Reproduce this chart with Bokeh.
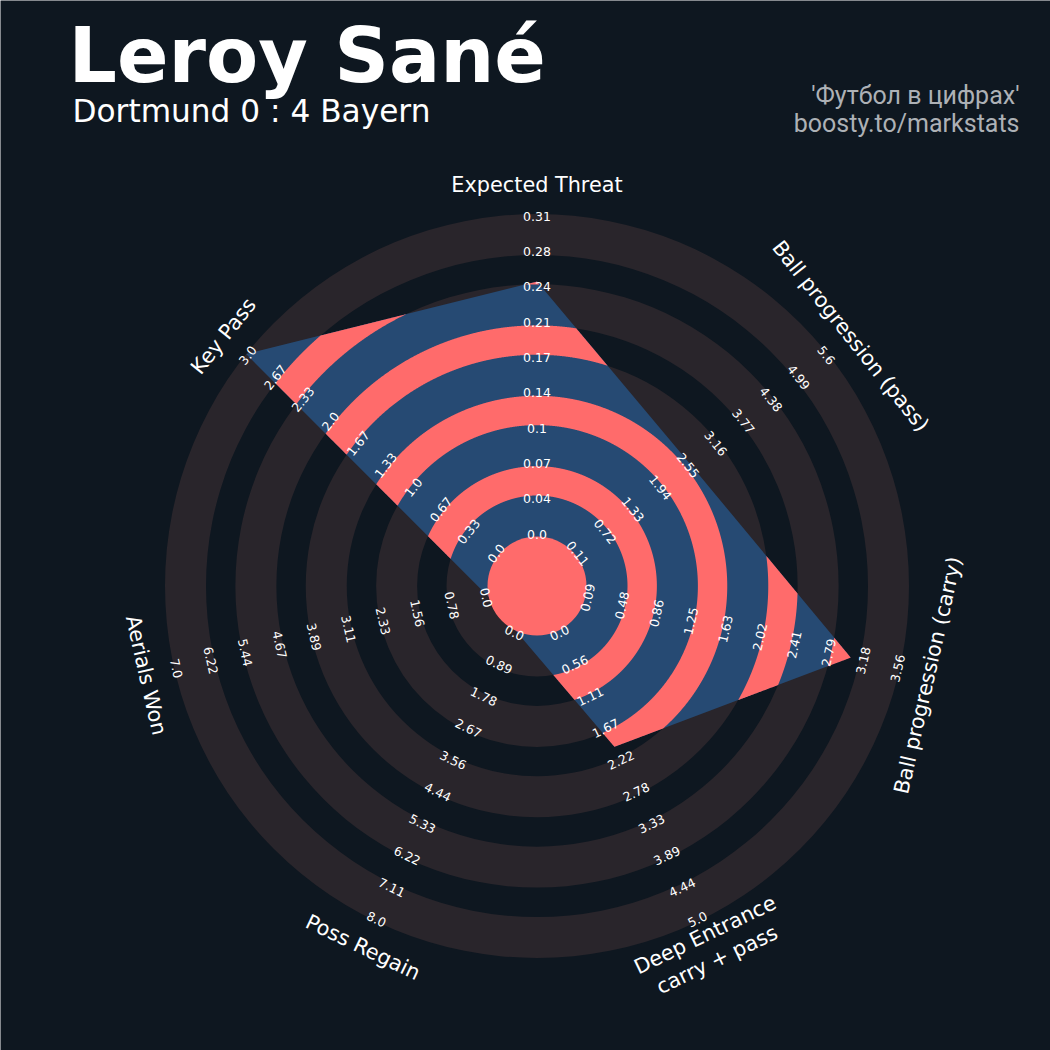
import numpy as np
from bokeh.plotting import figure
from bokeh.models import Range1d
from bokeh.core.properties import value
from bokeh.embed import file_html
from bokeh.resources import INLINE

# ---------------- data ----------------
params = ["Expected Threat", "Ball progression (pass)", "Ball progression (carry)",
          "Deep Entrance\ncarry + pass", "Poss Regain", "Aerials Won", "Key Pass"]
low = [0.0, 0.11, 0.09, 0.0, 0.0, 0.0, 0.0]
high = [0.31, 5.6, 3.56, 5.0, 8.0, 7.0, 3.0]
player_values = [0.245, 2.6, 3.02, 2.0, 0.0, 0.0, 3.0]
range_labels = [
    ["0.0", "0.04", "0.07", "0.1", "0.14", "0.17", "0.21", "0.24", "0.28", "0.31"],
    ["0.11", "0.72", "1.33", "1.94", "2.55", "3.16", "3.77", "4.38", "4.99", "5.6"],
    ["0.09", "0.48", "0.86", "1.25", "1.63", "2.02", "2.41", "2.79", "3.18", "3.56"],
    ["0.0", "0.56", "1.11", "1.67", "2.22", "2.78", "3.33", "3.89", "4.44", "5.0"],
    ["0.0", "0.89", "1.78", "2.67", "3.56", "4.44", "5.33", "6.22", "7.11", "8.0"],
    ["0.0", "0.78", "1.56", "2.33", "3.11", "3.89", "4.67", "5.44", "6.22", "7.0"],
    ["0.0", "0.33", "0.67", "1.0", "1.33", "1.67", "2.0", "2.33", "2.67", "3.0"],
]
title = "Leroy Sané"
subtitle = "Dortmund 0 : 4 Bayern"
credit = ["'Футбол в цифрах'", "boosty.to/markstats"]

# ---------------- style / layout ----------------
BG = "#0e1720"
GREY = "#29252b"
BLUE = "#264a73"
PINK = "#ff6b6b"
R_CENTER = 49.5
R_OUT = 372.0
GREY_W = 41.0
N_GREY = 5
DARK_W = (R_OUT - R_CENTER - N_GREY * GREY_W) / (N_GREY - 1)
LABEL_R0, LABEL_R1 = 52.0, 370.0
PARAM_R = 401.0

p = figure(width=1050, height=1050, output_backend="svg", toolbar_location=None,
           x_range=Range1d(-536.5, 513.5), y_range=Range1d(-464.5, 585.5),
           min_border=0, background_fill_color=BG, border_fill_color=BG)
p.axis.visible = False
p.grid.visible = False
p.outline_line_color = None

# band edges
grey_bands, dark_bands = [], []
r = R_CENTER
for k in range(N_GREY):
    grey_bands.append((r, r + GREY_W))
    r += GREY_W
    if k < N_GREY - 1:
        dark_bands.append((r, r + DARK_W))
        r += DARK_W

p.annulus(x=[0] * len(grey_bands), y=[0] * len(grey_bands),
          inner_radius=[b[0] for b in grey_bands], outer_radius=[b[1] for b in grey_bands],
          fill_color=GREY, line_color=None)

# radar polygon
n = len(params)
step = 2 * np.pi / n
theta = np.pi / 2 - np.arange(n) * step
rv = np.array([R_CENTER + (v - lo) / (hi - lo) * (R_OUT - R_CENTER)
               for v, lo, hi in zip(player_values, low, high)])
vx = rv * np.cos(theta)
vy = rv * np.sin(theta)
p.patch(list(vx), list(vy), fill_color=BLUE, line_color=None)

# polar boundary of polygon
ths, rs = [], []
for i in range(n):
    j = (i + 1) % n
    P = np.array([vx[i], vy[i]])
    Q = np.array([vx[j], vy[j]])
    d = Q - P
    tt = np.linspace(theta[i], theta[i] - step, 500, endpoint=False)
    num = P[0] * d[1] - P[1] * d[0]
    den = np.cos(tt) * d[1] - np.sin(tt) * d[0]
    ths.append(tt)
    rs.append(num / den)
ths = np.concatenate(ths)
rs = np.concatenate(rs)

xs_list, ys_list = [], []
for a, b in dark_bands:
    mask = rs > a
    if mask.all():
        half = len(rs) // 2
        runs = [np.arange(0, half + 1), np.append(np.arange(half, len(rs)), 0)]
        tr, rr = ths, rs
    else:
        s = int(np.argmin(mask))
        tr = np.roll(ths, -s)
        rr = np.roll(rs, -s)
        m = np.roll(mask, -s)
        runs = []
        idx = np.where(m)[0]
        if len(idx):
            splits = np.where(np.diff(idx) > 1)[0] + 1
            runs = np.split(idx, splits)
    for run in runs:
        if len(run) < 2:
            continue
        t = tr[run]
        outer = np.minimum(b, rr[run])
        xs = np.concatenate([outer * np.cos(t), a * np.cos(t[::-1])])
        ys = np.concatenate([outer * np.sin(t), a * np.sin(t[::-1])])
        xs_list.append(list(xs))
        ys_list.append(list(ys))
p.patches(xs_list, ys_list, fill_color=PINK, line_color=None)

# centre circle
p.circle(x=[0], y=[0], radius=R_CENTER, fill_color=PINK, line_color=None)


def text_rot(th):
    rot = np.degrees(th) - 90
    while rot <= -180:
        rot += 360
    while rot > 180:
        rot -= 360
    if rot < -90:
        rot += 180
    if rot > 90:
        rot -= 180
    return np.radians(rot)


# range labels
lr = np.linspace(LABEL_R0, LABEL_R1, 10)
lx, ly, lt, la = [], [], [], []
for i in range(n):
    for k, lab in enumerate(range_labels[i]):
        lx.append(lr[k] * np.cos(theta[i]))
        ly.append(lr[k] * np.sin(theta[i]))
        lt.append(lab)
        la.append(text_rot(theta[i]))
p.text(x=lx, y=ly, text=lt, angle=la, text_align="center", text_baseline="middle",
       text_font=value("DejaVu Sans"), text_font_size="12.5px", text_color="#ffffff")

# parameter labels
p.text(x=list(PARAM_R * np.cos(theta)), y=list(PARAM_R * np.sin(theta)), text=params,
       angle=[text_rot(t) for t in theta], text_align="center", text_baseline="middle",
       text_font=value("DejaVu Sans"), text_font_size="20.8px", text_color="#ffffff",
       text_line_height=1.15)

# titles (plot units = pixels, radar centre at origin)
p.text(x=[-468.5], y=[530.8], text=[title], text_font=value("DejaVu Sans"),
       text_font_style="bold", text_font_size="76px", text_color="#ffffff",
       text_baseline="middle", text_align="left")
p.text(x=[-464.5], y=[474.8], text=[subtitle], text_font=value("DejaVu Sans"),
       text_font_size="31.2px", text_color="#ffffff",
       text_baseline="middle", text_align="left")
p.text(x=[482.5, 482.5], y=[491.0, 462.5], text=credit, text_font=value("Roboto"),
       text_font_size="25px", text_color="#adb1b6",
       text_baseline="middle", text_align="right")

open("out.html", "w").write(file_html(p, INLINE, title="Leroy Sané"))
